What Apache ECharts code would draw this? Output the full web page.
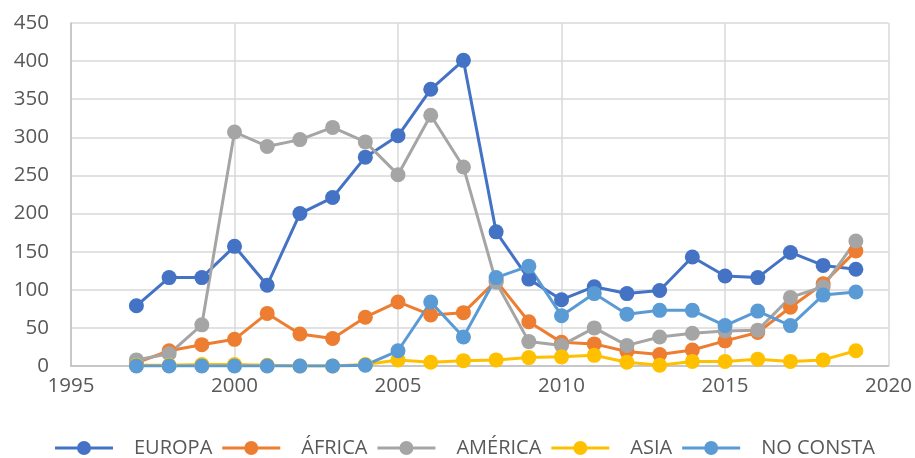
<!DOCTYPE html>
<html>
<head>
<meta charset="utf-8">
<script src="https://cdn.jsdelivr.net/npm/echarts@6/dist/echarts.min.js"></script>
<style>
  html, body { margin: 0; padding: 0; background: #fff; }
  #chart { width: 915px; height: 458px; }
</style>
</head>
<body>
<div id="chart"></div>
<script>
const years = [1997, 1998, 1999, 2000, 2001, 2002, 2003, 2004, 2005, 2006, 2007, 2008,
  2009, 2010, 2011, 2012, 2013, 2014, 2015, 2016, 2017, 2018, 2019];

const europa = [79, 116, 116, 157, 106, 200, 221, 274, 302, 363, 401, 176,
  114, 87, 104, 95, 99, 143, 118, 116, 149, 132, 127];
const africa = [4, 20, 28, 35, 69, 42, 36, 64, 84, 67, 70, 112,
  58, 31, 29, 19, 15, 21, 33, 44, 77, 108, 151];
const america = [8, 16, 54, 307, 288, 297, 313, 294, 251, 329, 261, 110,
  32, 27, 50, 27, 38, 43, 46, 47, 90, 104, 164];
const asia = [1, 1, 2, 2, 1, 0, 0, 2, 8, 5, 7, 8,
  11, 12, 14, 5, 1, 6, 6, 9, 6, 8, 20];
const noConsta = [0, 0, 0, 0, 0, 0, 0, 1, 20, 84, 38, 116,
  131, 66, 95, 68, 73, 73, 53, 72, 53, 93, 97];

const seriesNames = ['EUROPA', 'ÁFRICA', 'AMÉRICA', 'ASIA', 'NO CONSTA'];
const seriesData = [europa, africa, america, asia, noConsta];
const colors = ['#4472C4', '#ED7D31', '#A5A5A5', '#FFC000', '#5B9BD5'];

// line with a dot in the middle, like the Excel legend marker
const legendIcon = 'path://M0,6 L58,6 L58,9 L0,9 Z M22,7.5 A7,7 0 1,1 36,7.5 A7,7 0 1,1 22,7.5 Z';

const chart = echarts.init(document.getElementById('chart'));

const option = {
  backgroundColor: '#fff',
  animation: false,
  color: colors,
  textStyle: { fontFamily: 'Open Sans' },
  grid: {
    left: 71,
    right: 25,
    top: 23,
    bottom: 92,
  },
  xAxis: {
    type: 'value',
    min: 1995,
    max: 2020,
    interval: 5,
    axisLine: { show: true, lineStyle: { color: '#bfbfbf', width: 1.5 } },
    axisTick: { show: false },
    axisLabel: {
      color: '#595959',
      fontSize: 20.5,
      margin: 10,
      formatter: (v) => String(v),
    },
    splitLine: { show: true, lineStyle: { color: '#d9d9d9', width: 1.5 } },
  },
  yAxis: {
    type: 'value',
    min: 0,
    max: 450,
    interval: 50,
    axisLine: { show: true, lineStyle: { color: '#bfbfbf', width: 1.5 } },
    axisTick: { show: false },
    axisLabel: { color: '#595959', fontSize: 20.5, margin: 22 },
    splitLine: { show: true, lineStyle: { color: '#d9d9d9', width: 1.5 } },
  },
  legend: {
    bottom: -5,
    left: 50,
    icon: legendIcon,
    itemWidth: 58,
    itemHeight: 15,
    itemGap: 10,
    itemStyle: { borderWidth: 0 },
    textStyle: { color: '#595959', fontSize: 20, padding: [0, 0, 0, 16] },
    data: seriesNames,
  },
  series: seriesNames.map((name, i) => {
    return {
      name: name,
      type: 'line',
      symbol: 'circle',
      symbolSize: 15,
      lineStyle: { width: 3 },
      data: years.map((y, j) => [y, seriesData[i][j]]),
    };
  }),
};

chart.setOption(option);
</script>
</body>
</html>
